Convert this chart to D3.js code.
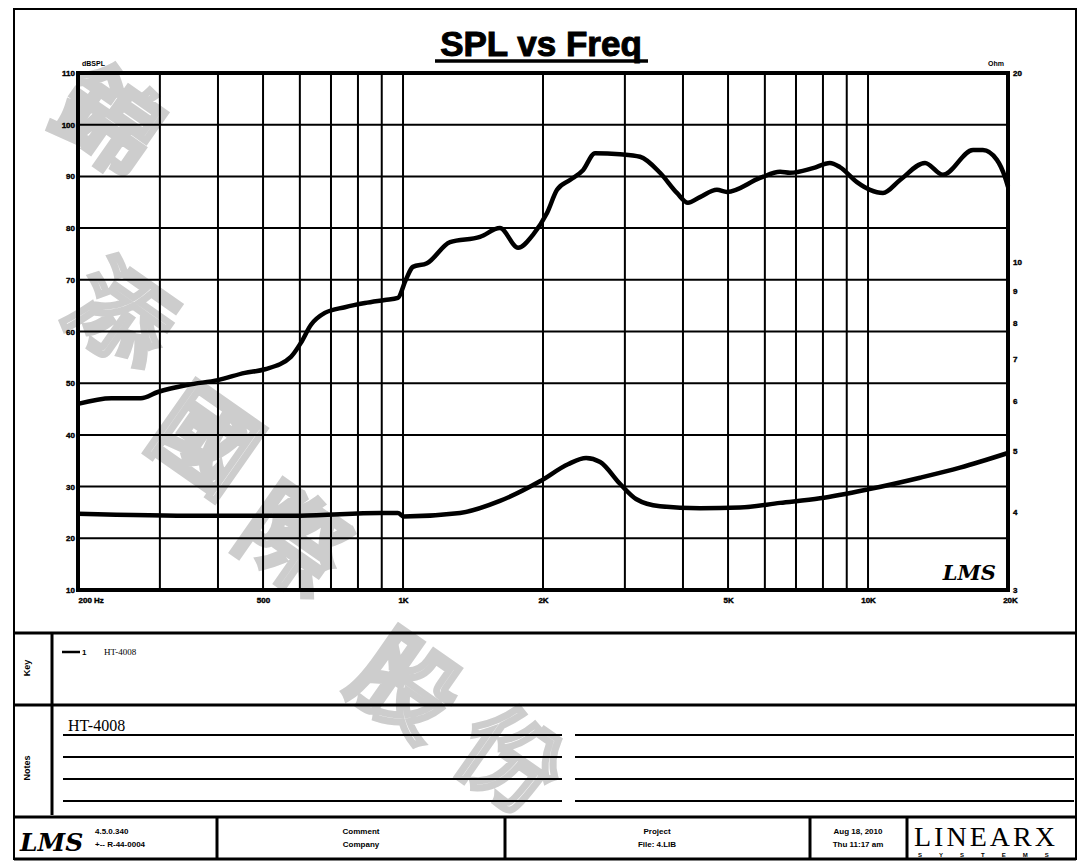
<!DOCTYPE html>
<html>
<head>
<meta charset="utf-8">
<script src="https://cdn.jsdelivr.net/npm/d3@7"></script>
<style>
  body { margin: 0; background: #fff; }
  svg { display: block; }
  text { font-family: "Liberation Sans", Arial, sans-serif; fill: #000; }
</style>
</head>
<body>
<svg id="chart" width="1078" height="861"></svg>
<script>
"use strict";
// ---- data ----
var splFreq = [200, 236, 273, 297, 345, 400, 457, 505, 574, 603, 634, 679, 750, 828, 914, 975,
  1014, 1050, 1126, 1262, 1464, 1616, 1768, 1903, 2040, 2144, 2286, 2438, 2588, 2928, 3234,
  3570, 3882, 4100, 4352, 4732, 4974, 5860, 6470, 6794, 7614, 8280, 8700, 9466, 10100, 10770,
  11720, 13260, 14490, 16820, 17660, 18930, 19700, 20000];
var splDb = [46.0, 47.1, 47.1, 48.3, 49.7, 50.6, 52.0, 52.7, 55.1, 57.8, 61.3, 63.6, 64.7, 65.5,
  66.1, 66.5, 70.0, 72.5, 73.2, 77.3, 78.3, 80.0, 76.2, 78.7, 82.9, 87.4, 89.3, 91.2, 94.5,
  94.3, 93.8, 90.7, 86.8, 84.9, 86.0, 87.4, 87.0, 89.7, 90.9, 90.7, 91.6, 92.6, 91.8, 88.9,
  87.4, 86.8, 89.3, 92.6, 90.3, 95.1, 95.1, 93.2, 89.9, 88.0];

var impFreq = [200, 366, 600, 892, 975, 1004, 1326, 1616, 1970, 2264, 2476, 2654, 2928, 3170,
  3570, 4352, 5306, 6470, 7885, 10000, 12940, 15770, 20000];
var impOhm = [3.97, 3.94, 3.94, 3.98, 3.98, 3.93, 3.98, 4.16, 4.47, 4.76, 4.87, 4.80, 4.43, 4.19,
  4.08, 4.05, 4.06, 4.13, 4.20, 4.34, 4.53, 4.70, 4.96];

var dbTicks = [10, 20, 30, 40, 50, 60, 70, 80, 90, 100, 110];
var ohmTicks = [3, 4, 5, 6, 7, 8, 9, 10, 20];
var freqGrid = [200, 300, 400, 500, 600, 700, 800, 900, 1000, 2000, 3000, 4000, 5000,
  6000, 7000, 8000, 9000, 10000, 20000];
var freqLabels = [[200, "200 Hz"], [500, "500"], [1000, "1K"], [2000, "2K"], [5000, "5K"],
  [10000, "10K"], [20000, "20K"]];
var watermark = ["錦", "添", "國", "際", "股", "份"];

// ---- layout ----
var plotL = 78, plotR = 1008, plotT = 73, plotB = 590;

var svg = d3.select("#chart");

// watermark underneath everything
var wmPos = [[88, 150], [100, 345], [185, 470], [272, 570], [385, 715], [490, 790]];
svg.append("g").selectAll("text")
  .data(watermark)
  .enter().append("text")
  .attr("transform", function(d, i) { return "translate(" + wmPos[i][0] + "," + wmPos[i][1] + ") rotate(35)"; })
  .attr("text-anchor", "middle")
  .style("font-family", "'Noto Sans CJK TC', sans-serif")
  .style("font-size", "100px")
  .style("fill", "none")
  .style("stroke", "#cdcdcd")
  .style("stroke-width", 7)
  .text(function(d) { return d; });

var x = d3.scaleLog().domain([200, 20000]).range([plotL, plotR]);
var yL = d3.scaleLinear().domain([10, 110]).range([plotB, plotT]);
var yR = d3.scaleLog().domain([3, 20]).range([plotB, plotT]);

// outer frame of the sheet
svg.append("path")
  .attr("d", "M14,860 L14,9 L1076,9 L1076,860")
  .attr("fill", "none").attr("stroke", "#000").attr("stroke-width", 2);

// title
svg.append("text")
  .attr("x", 541).attr("y", 56)
  .attr("text-anchor", "middle")
  .style("font-size", "35px").style("font-weight", "bold")
  .style("stroke", "#000").style("stroke-width", 1)
  .text("SPL vs Freq");
svg.append("line")
  .attr("x1", 435).attr("x2", 648).attr("y1", 61).attr("y2", 61)
  .attr("stroke", "#000").attr("stroke-width", 3.5);

// grid
var grid = svg.append("g");
grid.selectAll("line.v")
  .data(freqGrid)
  .enter().append("line")
  .attr("class", "v")
  .attr("x1", function(d) { return x(d); }).attr("x2", function(d) { return x(d); })
  .attr("y1", plotT).attr("y2", plotB)
  .attr("stroke", "#000").attr("stroke-width", 2);
grid.selectAll("line.h")
  .data(dbTicks)
  .enter().append("line")
  .attr("class", "h")
  .attr("x1", plotL).attr("x2", plotR)
  .attr("y1", function(d) { return yL(d); }).attr("y2", function(d) { return yL(d); })
  .attr("stroke", "#000").attr("stroke-width", 2);

// plot frame
svg.append("rect")
  .attr("x", plotL).attr("y", plotT)
  .attr("width", plotR - plotL).attr("height", plotB - plotT)
  .attr("fill", "none").attr("stroke", "#000").attr("stroke-width", 4);

// axes
var axL = svg.append("g")
  .attr("transform", "translate(" + plotL + ",0)")
  .call(d3.axisLeft(yL).tickValues(dbTicks).tickSize(0).tickPadding(3).tickFormat(d3.format("d")));
var axR = svg.append("g")
  .attr("transform", "translate(" + plotR + ",0)")
  .call(d3.axisRight(yR).tickValues(ohmTicks).tickSize(0).tickPadding(5).tickFormat(d3.format("d")));
var axB = svg.append("g")
  .attr("transform", "translate(0," + plotB + ")")
  .call(d3.axisBottom(x).tickValues(freqLabels.map(function(d) { return d[0]; }))
    .tickSize(0).tickPadding(7)
    .tickFormat(function(d) { return freqLabels.find(function(f) { return f[0] === d; })[1]; }));
[axL, axR, axB].forEach(function(a) {
  a.select(".domain").remove();
  a.selectAll("text").style("font-size", "8px").style("font-weight", "bold")
    .style("font-family", "'Liberation Sans', Arial, sans-serif")
    .style("stroke", "#000").style("stroke-width", 0.4);
});
axB.selectAll("text").filter(function(d) { return d === 200; }).attr("text-anchor", "start");
axB.selectAll("text").filter(function(d) { return d === 20000; }).attr("dx", "2");

svg.append("text").attr("x", 82).attr("y", 66)
  .style("font-size", "7px").style("font-weight", "bold").text("dBSPL");
svg.append("text").attr("x", 1004).attr("y", 66).attr("text-anchor", "end")
  .style("font-size", "7px").style("font-weight", "bold").text("Ohm");

// curves
var splLine = d3.line()
  .x(function(d, i) { return x(splFreq[i]); })
  .y(function(d) { return yL(d); })
  .curve(d3.curveMonotoneX);
var impLine = d3.line()
  .x(function(d, i) { return x(impFreq[i]); })
  .y(function(d) { return yR(d); })
  .curve(d3.curveMonotoneX);

svg.append("path").datum(splDb)
  .attr("d", splLine)
  .attr("fill", "none").attr("stroke", "#000").attr("stroke-width", 4.5)
  .attr("stroke-linejoin", "round");
svg.append("path").datum(impOhm)
  .attr("d", impLine)
  .attr("fill", "none").attr("stroke", "#000").attr("stroke-width", 4.5)
  .attr("stroke-linejoin", "round");

// LMS mark inside the plot
svg.append("text").attr("x", 996).attr("y", 580).attr("text-anchor", "end")
  .style("font-size", "21px").style("font-style", "italic").style("font-weight", "bold")
  .style("font-family", "'DejaVu Serif', serif")
  .text("LMS");

// ---- lower panels ----
var panel = svg.append("g").attr("stroke", "#000").attr("fill", "none");
panel.append("line").attr("x1", 14).attr("x2", 1076).attr("y1", 633).attr("y2", 633).attr("stroke-width", 3);
panel.append("line").attr("x1", 14).attr("x2", 1076).attr("y1", 705).attr("y2", 705).attr("stroke-width", 3);
panel.append("line").attr("x1", 52).attr("x2", 52).attr("y1", 633).attr("y2", 815).attr("stroke-width", 3);
panel.append("line").attr("x1", 14).attr("x2", 1076).attr("y1", 817).attr("y2", 817).attr("stroke-width", 3);
panel.append("line").attr("x1", 14).attr("x2", 1076).attr("y1", 859).attr("y2", 859).attr("stroke-width", 3);
[735, 757, 779, 801].forEach(function(yy) {
  panel.append("line").attr("x1", 63).attr("x2", 562).attr("y1", yy).attr("y2", yy).attr("stroke-width", 2);
  panel.append("line").attr("x1", 575).attr("x2", 1074).attr("y1", yy).attr("y2", yy).attr("stroke-width", 2);
});
[217, 505, 810, 907].forEach(function(xx) {
  panel.append("line").attr("x1", xx).attr("x2", xx).attr("y1", 817).attr("y2", 859).attr("stroke-width", 3);
});

svg.append("text").attr("transform", "translate(30,668) rotate(-90)").attr("text-anchor", "middle")
  .style("font-size", "9px").style("font-weight", "bold").text("Key");
svg.append("text").attr("transform", "translate(30,768) rotate(-90)").attr("text-anchor", "middle")
  .style("font-size", "9px").style("font-weight", "bold").text("Notes");

svg.append("line").attr("x1", 62).attr("x2", 80).attr("y1", 652).attr("y2", 652)
  .attr("stroke", "#000").attr("stroke-width", 2.5);
svg.append("text").attr("x", 82).attr("y", 655).style("font-size", "8px").style("font-weight", "bold").text("1");
svg.append("text").attr("x", 104).attr("y", 655).style("font-size", "9px")
  .style("font-family", "'Liberation Serif', serif").text("HT-4008");

svg.append("text").attr("x", 68).attr("y", 731).style("font-size", "16px")
  .style("font-family", "'Liberation Serif', serif").text("HT-4008");

// bottom info row
svg.append("text").attr("x", 20).attr("y", 851)
  .style("font-size", "25px").style("font-style", "italic").style("font-weight", "bold")
  .style("font-family", "'DejaVu Serif', serif").text("LMS");
svg.append("text").attr("x", 95).attr("y", 834).style("font-size", "8px").style("font-weight", "bold").text("4.5.0.340");
svg.append("text").attr("x", 95).attr("y", 847).style("font-size", "8px").style("font-weight", "bold").text("+-- R-44-0004");

svg.append("text").attr("x", 361).attr("y", 834).attr("text-anchor", "middle")
  .style("font-size", "8px").style("font-weight", "bold").text("Comment");
svg.append("text").attr("x", 361).attr("y", 847).attr("text-anchor", "middle")
  .style("font-size", "8px").style("font-weight", "bold").text("Company");
svg.append("text").attr("x", 657).attr("y", 834).attr("text-anchor", "middle")
  .style("font-size", "8px").style("font-weight", "bold").text("Project");
svg.append("text").attr("x", 657).attr("y", 847).attr("text-anchor", "middle")
  .style("font-size", "8px").style("font-weight", "bold").text("File: 4.LIB");
svg.append("text").attr("x", 858).attr("y", 834).attr("text-anchor", "middle")
  .style("font-size", "8px").style("font-weight", "bold").text("Aug 18, 2010");
svg.append("text").attr("x", 858).attr("y", 847).attr("text-anchor", "middle")
  .style("font-size", "8px").style("font-weight", "bold").text("Thu 11:17 am");

svg.append("text").attr("x", 914).attr("y", 846)
  .style("font-size", "28px").style("letter-spacing", "3px")
  .style("font-family", "'Liberation Serif', serif").text("LINEARX");
svg.append("text").attr("x", 918).attr("y", 857)
  .style("font-size", "6px").style("font-weight", "bold").style("letter-spacing", "17px").text("SYSTEMS");
</script>
</body>
</html>
